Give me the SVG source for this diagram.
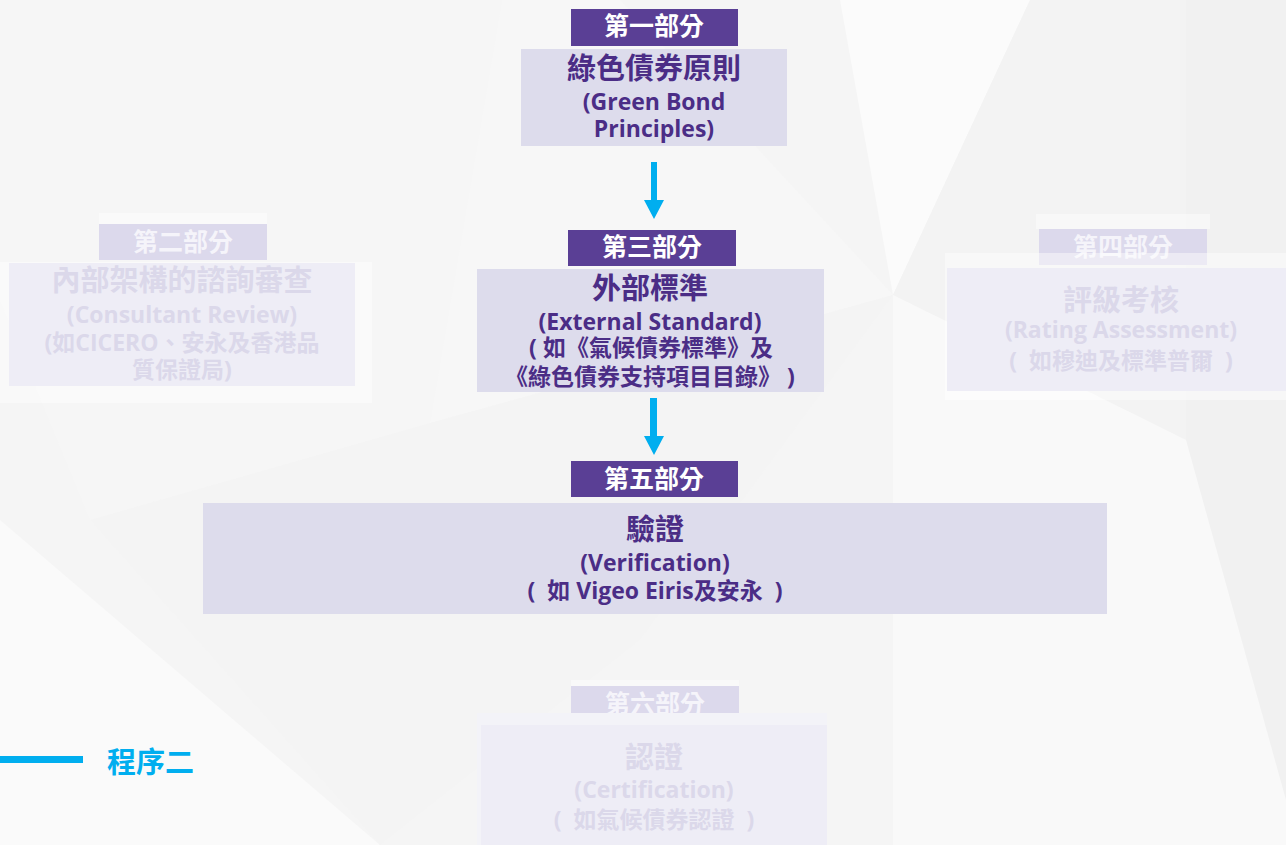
<svg xmlns="http://www.w3.org/2000/svg" width="1286" height="845" viewBox="0 0 1286 845">
<defs>
<style>
.t{font-family:"Open Sans","Noto Sans CJK TC","Liberation Sans",sans-serif;font-weight:700;text-anchor:middle}
.hd{fill:#5a3f95}
.bd{fill:#dddcec}
.ht{fill:#ffffff;font-size:25px}
.bt{fill:#4b2d86}
.fhd{fill:#dcd9ec}
.fout{fill:#ffffff;fill-opacity:0.45}
.fbd{fill:#eeedf6}
.fht{fill:#f5f4fa;font-size:25px}
.fbt{fill:#dbd8ea}
.xl{font-size:29px}
.en{font-size:23px}
.cn{font-size:23px}
.arrow{fill:#00aeef}
</style>
</defs>
<g id="background">
<rect x="0" y="0" width="1286" height="845" fill="#f5f5f5"/>
<polygon points="502,0 620,0 893,295 430,423" fill="#f7f7f7"/>
<polygon points="502,0 430,423 90,520 0,300 0,0" fill="#f6f6f6"/>
<polygon points="840,0 1030,0 893,295" fill="#fbfbfb"/>
<polygon points="1030,0 1186,0 1186,440 893,295" fill="#f3f3f3"/>
<polygon points="1186,0 1286,0 1286,845 1186,845" fill="#f1f1f1"/>
<polygon points="893,295 1186,440 1286,800 1286,845 893,845" fill="#f9f9f9"/>
<polygon points="0,520 380,845 0,845" fill="#fafafa"/>
<polygon points="90,520 430,423 893,295 640,640 380,845" fill="#f4f4f4"/>
</g>
<g id="part2">
<rect x="99" y="213" width="168" height="12" class="fout"/>
<rect x="99" y="224" width="168" height="36" class="fhd"/>
<text x="183" y="251" class="t fht">第二部分</text>
<rect x="0" y="262" width="372" height="141" class="fout"/>
<rect x="9" y="263" width="346" height="123" class="fbd"/>
<text x="182" y="291" class="t fbt xl">內部架構的諮詢審查</text>
<text x="182" y="323" class="t fbt en">(Consultant Review)</text>
<text x="182" y="351" class="t fbt cn">(如CICERO、安永及香港品</text>
<text x="182" y="378" class="t fbt cn">質保證局)</text>
</g>
<g id="part4">
<rect x="1036" y="214" width="174" height="15" class="fout"/>
<rect x="1039" y="229" width="168" height="36" class="fhd"/>
<text x="1123" y="256" class="t fht">第四部分</text>
<rect x="945" y="253" width="341" height="147" class="fout"/>
<rect x="947" y="268" width="339" height="123" class="fbd"/>
<text x="1121" y="311" class="t fbt xl">評級考核</text>
<text x="1121" y="338" class="t fbt en">(Rating Assessment)</text>
<text x="1121" y="369" class="t fbt cn">(&#160;&#160;如穆迪及標準普爾&#160;&#160;)</text>
</g>
<g id="part6">
<rect x="571" y="680" width="168" height="8" class="fout"/>
<rect x="571" y="686" width="168" height="36" class="fhd"/>
<text x="655" y="713" class="t fht">第六部分</text>
<rect x="477" y="713" width="350" height="132" fill="#f3f3f8"/>
<rect x="481" y="725" width="346" height="120" class="fbd"/>
<text x="654" y="768" class="t fbt xl">認證</text>
<text x="654" y="798" class="t fbt en">(Certification)</text>
<text x="654" y="828" class="t fbt cn">(&#160;&#160;如氣候債券認證&#160;&#160;)</text>
</g>
<g id="connectors">
<path class="arrow" d="M651,162 H657 V200 H664 L654,219 L644,200 H651 Z"/>
<path class="arrow" d="M650,398 H657 V436 H664 L654,455 L644,436 H650 Z"/>
</g>
<g id="part1">
<rect x="571" y="9" width="167" height="37" class="hd"/>
<text x="654" y="35" class="t ht">第一部分</text>
<rect x="521" y="49" width="266" height="97" class="bd"/>
<text x="654" y="79" class="t bt xl">綠色債券原則</text>
<text x="654" y="110" class="t bt en">(Green Bond</text>
<text x="654" y="137" class="t bt en">Principles)</text>
</g>
<g id="part3">
<rect x="568" y="230" width="168" height="36" class="hd"/>
<text x="652" y="256" class="t ht">第三部分</text>
<rect x="477" y="269" width="347" height="123" class="bd"/>
<text x="650" y="299" class="t bt xl">外部標準</text>
<text x="650" y="330" class="t bt en">(External Standard)</text>
<text x="651" y="356" class="t bt cn">(&#160;如《氣候債券標準》及</text>
<text x="650" y="385" class="t bt cn">《綠色債券支持項目目錄》&#160;)</text>
</g>
<g id="part5">
<rect x="571" y="461" width="167" height="36" class="hd"/>
<text x="654" y="488" class="t ht">第五部分</text>
<rect x="203" y="503" width="904" height="111" class="bd"/>
<text x="655" y="540" class="t bt xl">驗證</text>
<text x="655" y="571" class="t bt en">(Verification)</text>
<text x="655" y="599" class="t bt en">(&#160;&#160;如 Vigeo Eiris及安永&#160;&#160;)</text>
</g>
<g id="label">
<rect x="0" y="756" width="83" height="7" fill="#00aeef"/>
<text x="107" y="773" class="t" style="text-anchor:start;font-size:29px;fill:#00aeef">程序二</text>
</g>
</svg>
